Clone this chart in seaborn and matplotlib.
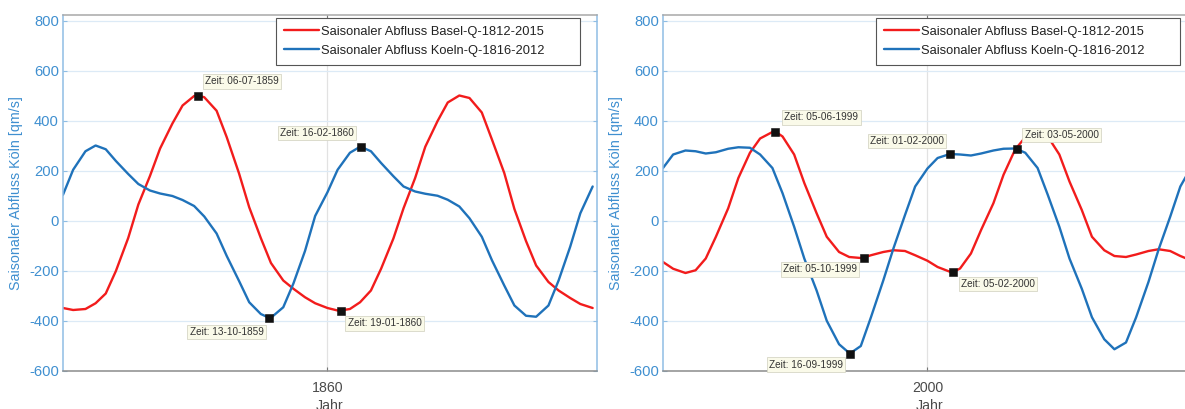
import numpy as np
import pandas as pd
import matplotlib
matplotlib.use("Agg")
import matplotlib.pyplot as plt
import matplotlib.dates as mdates
import seaborn as sns

# ---------------------------------------------------------------- data
SERIES = ["Saisonaler Abfluss Basel-Q-1812-2015",
          "Saisonaler Abfluss Koeln-Q-1816-2012"]

# seasonal component, sampled on the 1st and 15th of each month
basel_1859 = [-348, -356, -352, -329, -290, -200, -68, 66, 180, 290, 390, 462,
              500, 495, 441, 335, 190, 55, -68, -168, -238, -271, -305, -329,
              -348, -358, -352, -325, -278, -191, -70, 51, 172, 297, 400, 474,
              502, 492, 434, 326, 192, 48, -80, -178, -244, -278, -308, -332,
              -348]
koeln_1859 = [105, 205, 279, 302, 287, 240, 188, 148, 122, 110, 100, 84,
              60, 18, -50, -140, -240, -325, -372, -387, -345, -250, -120, 20,
              115, 205, 273, 297, 279, 232, 179, 138, 118, 109, 101, 85,
              58, 11, -63, -157, -258, -338, -379, -383, -338, -238, -103, 31,
              138]

basel_1999 = [-164, -191, -208, -197, -150, -63, 51, 172, 273, 330, 356, 338,
              266, 152, 31, -63, -124, -144, -148, -137, -124, -117, -120, -137,
              -159, -184, -203, -190, -130, -36, 71, 185, 286, 335, 356, 338,
              266, 158, 44, -63, -117, -140, -144, -134, -120, -113, -120, -140,
              -160]
koeln_1999 = [212, 266, 282, 279, 270, 275, 289, 295, 293, 266, 212, 111,
              -23, -150, -278, -399, -493, -528, -500, -385, -238, -110, 24, 138,
              210, 252, 268, 266, 262, 270, 282, 289, 290, 273, 212, 105,
              -23, -150, -271, -385, -473, -513, -486, -385, -244, -114, 17, 138,
              225]

# data tips (date, series index, value)
tip_dates_1859 = ["06-07-1859", "16-02-1860", "13-10-1859", "19-01-1860"]
tip_series_1859 = [0, 1, 1, 0]
tip_values_1859 = [502, 297, -388, -358]

tip_dates_1999 = ["05-06-1999", "01-02-2000", "03-05-2000",
                  "05-10-1999", "05-02-2000", "16-09-1999"]
tip_series_1999 = [0, 1, 1, 0, 0, 1]
tip_values_1999 = [358, 268, 288, -146, -205, -530]

y_ticks = [-600, -400, -200, 0, 200, 400, 600, 800]
x_tick_years = ["1860", "2000"]

# ---------------------------------------------------------------- style
RED = "#F21C1C"
BLUE = "#1F72BA"
AXIS_BLUE = "#3F8FD0"
SPINE_BLUE = "#8FBDE4"
TEXT_GRAY = "#4A4A4A"

# where each data-tip box sits relative to its marker: (dx, dy, ha, va)
tip_place_1859 = [(7, 9, "left", "bottom"), (-7, 9, "right", "bottom"),
                  (-6, -9, "right", "top"), (7, -8, "left", "top")]
tip_place_1999 = [(9, 9, "left", "bottom"), (-6, 8, "right", "bottom"),
                  (8, 9, "left", "bottom"), (-7, -7, "right", "top"),
                  (8, -7, "left", "top"), (-7, -6, "right", "top")]

sns.set_theme(style="white")
plt.rcParams["font.family"] = ["Liberation Sans", "DejaVu Sans"]


def build_frames(start, end, basel, koeln, tdates, tseries, tvalues):
    grid = pd.date_range(start, end, freq="SMS")
    curves = pd.DataFrame({
        "Datum": np.concatenate([grid.values, grid.values]),
        "Abfluss": list(basel) + list(koeln),
        "Reihe": [SERIES[0]] * len(grid) + [SERIES[1]] * len(grid),
    })
    tips = pd.DataFrame({
        "Datum": pd.to_datetime(tdates, format="%d-%m-%Y"),
        "Abfluss": tvalues,
        "Reihe": [SERIES[i] for i in tseries],
        "Label": tdates,
    })
    full = (pd.concat([curves, tips[["Datum", "Abfluss", "Reihe"]]])
            .drop_duplicates(["Datum", "Reihe"], keep="last")
            .sort_values(["Reihe", "Datum"]))
    return full, tips


def draw_panel(ax, full, tips, places, xlim, year):
    sns.lineplot(data=full, x="Datum", y="Abfluss", hue="Reihe",
                 hue_order=SERIES, palette=[RED, BLUE], linewidth=1.7,
                 estimator=None, sort=True, ax=ax)
    sns.scatterplot(data=tips, x="Datum", y="Abfluss", marker="s", s=28,
                    color="#111111", edgecolor="#111111", linewidth=0.4,
                    legend=False, zorder=6, ax=ax)
    for (_, row), (dx, dy, ha, va) in zip(tips.iterrows(), places):
        ax.annotate(f"Zeit: {row['Label']}",
                    xy=(mdates.date2num(row["Datum"]), row["Abfluss"]),
                    xytext=(dx, dy), textcoords="offset pixels",
                    ha=ha, va=va, fontsize=7.2, color="#333333", zorder=7,
                    bbox=dict(boxstyle="square,pad=0.22", fc="#FAFAE9",
                              ec="#D6D6C6", lw=0.6))

    ax.set_xlim(mdates.date2num(pd.Timestamp(xlim[0])),
                mdates.date2num(pd.Timestamp(xlim[1])))
    ax.set_ylim(-600, 824)
    ax.set_yticks(y_ticks)
    ax.set_yticklabels([str(v) for v in y_ticks])
    ax.set_xticks([mdates.date2num(pd.Timestamp(f"{year}-01-01"))])
    ax.set_xticklabels([year])

    ax.grid(axis="y", color="#DCEAF6", linewidth=0.9)
    ax.grid(axis="x", color="#E2E2E2", linewidth=0.9)
    ax.set_axisbelow(True)

    ax.tick_params(axis="y", direction="in", left=True, right=True,
                   length=3, width=0.8, colors=SPINE_BLUE,
                   labelcolor=AXIS_BLUE, labelsize=10.6, pad=3)
    ax.tick_params(axis="x", direction="in", bottom=True, top=True,
                   length=3, width=0.8, colors="#777777",
                   labelcolor=TEXT_GRAY, labelsize=10.2, pad=7)

    ax.spines["left"].set_color(SPINE_BLUE)
    ax.spines["right"].set_color(SPINE_BLUE)
    ax.spines["top"].set_color("#A8A8A8")
    ax.spines["bottom"].set_color("#8C8C8C")
    for sp in ax.spines.values():
        sp.set_linewidth(1.1)
        sp.set_visible(True)

    ax.set_ylabel("Saisonaler Abfluss Köln [qm/s]", color=AXIS_BLUE,
                  fontsize=10.3, labelpad=4)
    ax.set_xlabel("Jahr", color=TEXT_GRAY, fontsize=10.2, labelpad=3)

    handles, labels = ax.get_legend_handles_labels()
    leg = ax.legend(handles, labels, loc="upper left",
                    bbox_to_anchor=(0.399, 0.848, 0.569, 0.1436),
                    mode="expand", borderaxespad=0,
                    fontsize=9.3, frameon=True, fancybox=False,
                    edgecolor="#555555", framealpha=1, handlelength=2.7,
                    handletextpad=0.2, labelspacing=0.55, borderpad=0.6)
    leg.get_frame().set_linewidth(0.8)
    for line in leg.get_lines():
        line.set_linewidth(1.7)
    for txt in leg.get_texts():
        txt.set_color("#222222")


W, H = 1185, 409
fig = plt.figure(figsize=(W / 100, H / 100), dpi=100)
fig.patch.set_facecolor("white")
ax_left = fig.add_axes([63 / W, 1 - 371 / H, 534 / W, 356 / H])
ax_right = fig.add_axes([663 / W, 1 - 371 / H, 534 / W, 356 / H])

full_a, tips_a = build_frames("1859-01-01", "1861-01-01", basel_1859, koeln_1859,
                              tip_dates_1859, tip_series_1859, tip_values_1859)
full_b, tips_b = build_frames("1999-01-01", "2001-01-01", basel_1999, koeln_1999,
                              tip_dates_1999, tip_series_1999, tip_values_1999)

draw_panel(ax_left, full_a, tips_a, tip_place_1859,
           ("1859-01-01", "1861-01-07"), x_tick_years[0])
draw_panel(ax_right, full_b, tips_b, tip_place_1999,
           ("1999-01-01", "2001-01-07"), x_tick_years[1])

fig.savefig("out.png", dpi=100, facecolor="white")
